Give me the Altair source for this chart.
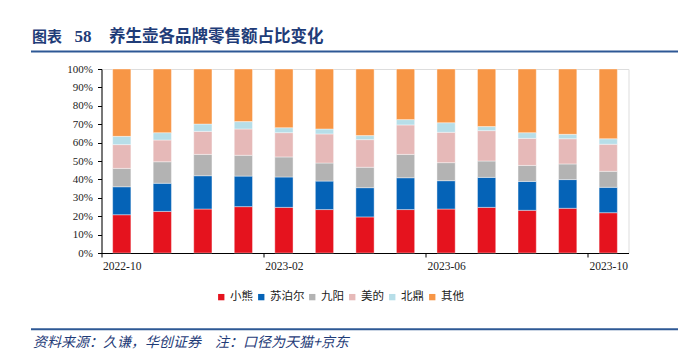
import altair as alt
import pandas as pd

months = ["2022-10", "2022-11", "2022-12", "2023-01", "2023-02", "2023-03", "2023-04",
          "2023-05", "2023-06", "2023-07", "2023-08", "2023-09", "2023-10"]
brands = ["小熊", "苏泊尔", "九阳", "美的", "北鼎", "其他"]
colors = ["#E5131E", "#0563B7", "#B3B3B3", "#E6B9B8", "#B7DEE8", "#F79646"]

xiaoxiong = [20.8, 22.6, 23.9, 25.2, 24.8, 23.6, 19.6, 23.6, 23.9, 24.8, 23.2, 24.3, 21.9]
supor     = [15.2, 15.3, 18.1, 16.6, 16.5, 15.5, 15.9, 17.3, 15.4, 16.3, 15.7, 15.6, 13.8]
joyoung   = [10.0, 11.7, 11.6, 11.3, 10.9,  9.8, 11.1, 12.7,  9.8,  8.9,  8.7,  8.5,  8.7]
midea     = [12.9, 11.8, 12.5, 14.3, 13.2, 15.8, 15.0, 16.0, 16.5, 16.5, 14.7, 13.7, 14.7]
buydeem   = [ 4.5,  4.0,  4.0,  4.0,  2.7,  2.7,  2.2,  2.9,  5.2,  2.2,  3.1,  2.4,  3.0]
others    = [36.6, 34.6, 29.9, 28.6, 31.9, 32.6, 36.2, 27.5, 29.2, 31.3, 34.6, 35.5, 37.9]

tick_labels = ["2022-10", "2023-02", "2023-06", "2023-10"]
y_ticks = [0, 0.1, 0.2, 0.3, 0.4, 0.5, 0.6, 0.7, 0.8, 0.9, 1.0]

title_prefix = "图表"
title_num = "58"
title_text = "养生壶各品牌零售额占比变化"
source_text = "资料来源：久谦，华创证券\u3000注：口径为天猫+京东"

series = [xiaoxiong, supor, joyoung, midea, buydeem, others]
rows = []
for bi, (b, vals) in enumerate(zip(brands, series)):
    for m, v in zip(months, vals):
        rows.append({"month": m, "brand": b, "order": bi, "value": v})
df = pd.DataFrame(rows)

W, H = 527, 184
step = W / len(months)
DARK = "#1F3C78"
LINE = "#2E5895"

bars = alt.Chart(df).mark_bar(stroke="white", strokeWidth=0.4).encode(
    x=alt.X("month:N", sort=months,
            scale=alt.Scale(paddingInner=0.55, paddingOuter=0.275),
            axis=alt.Axis(title=None, values=tick_labels, labelAngle=0,
                          tickOffset=-step / 2, labelOffset=step / 2,
                          tickSize=4, labelPadding=3, domainColor="#000",
                          tickColor="#000", labelFont="Liberation Serif",
                          labelFontSize=11.5, labelColor="#222")),
    y=alt.Y("value:Q", stack="normalize",
            scale=alt.Scale(domain=[0, 1], nice=False),
            axis=alt.Axis(title=None, format=".0%", values=y_ticks, grid=False,
                          tickSize=4, labelPadding=5, domainColor="#000",
                          tickColor="#000", labelFont="Liberation Serif",
                          labelFontSize=11, labelColor="#222")),
    color=alt.Color("brand:N", sort=brands,
                    scale=alt.Scale(domain=brands, range=colors),
                    legend=alt.Legend(title=None, orient="none", direction="horizontal",
                                      legendX=114, legendY=222, symbolType="square",
                                      symbolSize=40, symbolStrokeWidth=0,
                                      labelFont="Noto Sans CJK SC", labelFontSize=11.5,
                                      labelColor="#222", labelOffset=3,
                                      columnPadding=2, padding=0)),
    order=alt.Order("order:Q"),
)

t1 = alt.Chart(pd.DataFrame({"t": [title_prefix]})).mark_text(
    align="left", baseline="middle", font="Noto Sans CJK SC", fontSize=15,
    fontWeight="bold", color=DARK).encode(
    text="t:N", x=alt.value(-69.5), y=alt.value(-32.5))
t2 = alt.Chart(pd.DataFrame({"t": [title_num]})).mark_text(
    align="left", baseline="middle", font="Liberation Serif", fontSize=17,
    fontWeight="bold", color=DARK).encode(
    text="t:N", x=alt.value(-27), y=alt.value(-32.5))
t3 = alt.Chart(pd.DataFrame({"t": [title_text]})).mark_text(
    align="left", baseline="middle", font="Noto Sans CJK SC", fontSize=16.5,
    fontWeight="bold", color=DARK).encode(
    text="t:N", x=alt.value(7.5), y=alt.value(-32.5))

top_rule = alt.Chart(pd.DataFrame({"a": [0]})).mark_rule(color=LINE, strokeWidth=2).encode(
    x=alt.value(-70.5), x2=alt.value(576.5), y=alt.value(-17.5))
bottom_rule = alt.Chart(pd.DataFrame({"a": [0]})).mark_rule(color=LINE, strokeWidth=2).encode(
    x=alt.value(-70.5), x2=alt.value(576.5), y=alt.value(260.3))

src = alt.Chart(pd.DataFrame({"t": [source_text]})).mark_text(
    align="left", baseline="middle", font="Noto Sans CJK SC", fontSize=14,
    fontStyle="italic", color=DARK).encode(
    text="t:N", x=alt.value(-68.5), y=alt.value(273.5))

chart = alt.layer(bars, t1, t2, t3, top_rule, bottom_rule, src).properties(
    width=W, height=H,
    autosize=alt.AutoSizeParams(type="none"),
    padding={"left": 101.5, "top": 69, "right": 70.5, "bottom": 97},
).configure_view(stroke=None).configure(background="white")

chart.save("out.html", embed_options={"renderer": "svg", "actions": False})
